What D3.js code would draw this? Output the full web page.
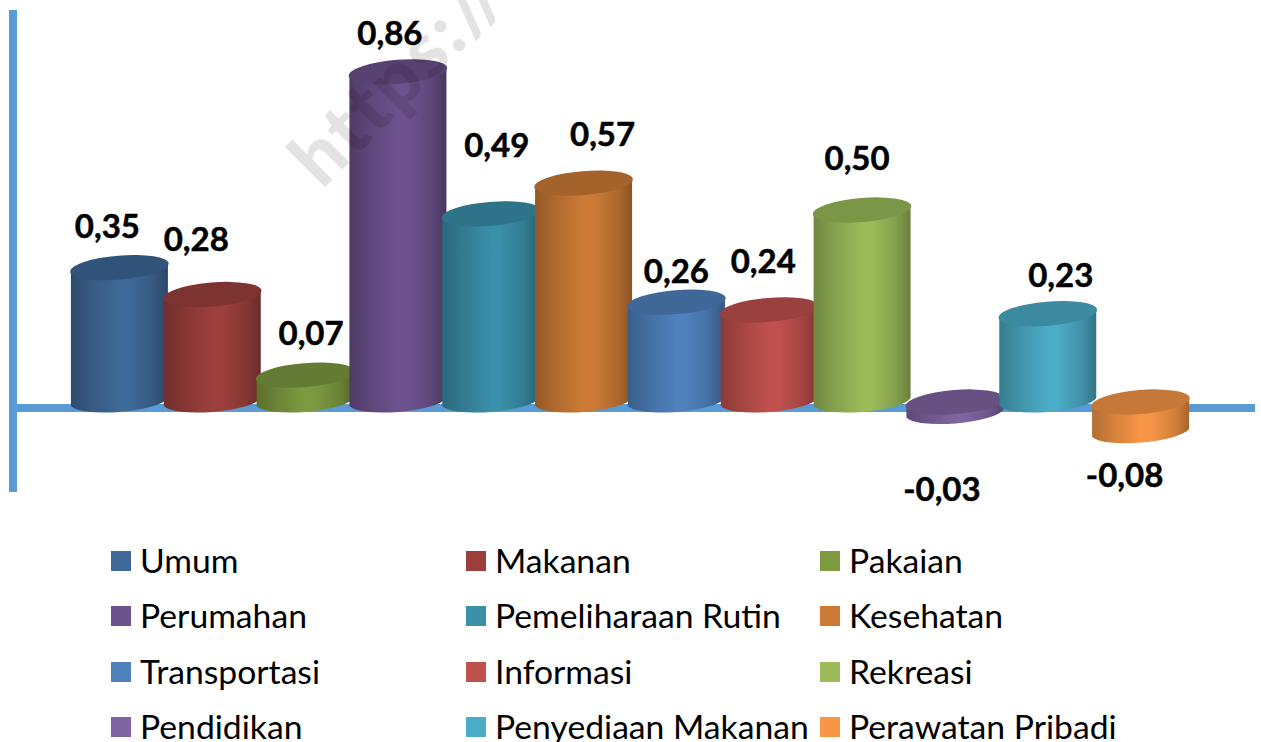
<!DOCTYPE html>
<html>
<head>
<meta charset="utf-8">
<script src="https://cdn.jsdelivr.net/npm/d3@7"></script>
<style>
  html, body { margin: 0; padding: 0; background: #fff; }
  svg { display: block; }
</style>
</head>
<body>
<div id="graph-container"></div>
<script>
const categories = ['Umum','Makanan','Pakaian','Perumahan','Pemeliharaan Rutin','Kesehatan','Transportasi','Informasi','Rekreasi','Pendidikan','Penyediaan Makanan','Perawatan Pribadi'];
const values = [0.35,0.28,0.07,0.86,0.49,0.57,0.26,0.24,0.50,-0.03,0.23,-0.08];
const colors = ['#3f6998','#9c3f3c','#7d9a40','#6d528e','#3a8fa9','#cc7b36','#4f81bd','#c0504d','#9bbb59','#8064a2','#4bacc6','#f79646'];

// hand placed label nudges, the original labels were dragged around
const labelDx = [-12,-16,6,-8,6,19,0,-6,-5,-13,13,-16];
const labelDy = [-41,-55,-42,-38,-68,-49,-31,-48,-52,87,-38,73];

const width = 1261;
const height = 742;
const axisColor = '#5b9bd5';
const RX = 49.4;
const RY = 12;
const TILT = -4.7;

const svg = d3.select('#graph-container').append('svg')
  .attr('width', width)
  .attr('height', height);

const x = d3.scaleBand().domain(categories).range([73, 1187]).padding(0);
const y = d3.scaleLinear().domain([0, 1]).range([402, 18]);
const barW = 97;

const defs = svg.append('defs');
colors.forEach((c, i) => {
  const g = defs.append('linearGradient').attr('id', `cyl-${i}`).attr('x1', 0).attr('x2', 1).attr('y1', 0).attr('y2', 0);
  g.append('stop').attr('offset', '0%').attr('stop-color', d3.rgb(c).darker(0.9));
  g.append('stop').attr('offset', '22%').attr('stop-color', d3.rgb(c).darker(0.42));
  g.append('stop').attr('offset', '50%').attr('stop-color', c);
  g.append('stop').attr('offset', '60%').attr('stop-color', c);
  g.append('stop').attr('offset', '85%').attr('stop-color', d3.rgb(c).darker(0.45));
  g.append('stop').attr('offset', '100%').attr('stop-color', d3.rgb(c).darker(1.1));
});

// axes
const axisG = svg.append('g').attr('id', 'axes');
axisG.append('line')
  .attr('x1', 13).attr('x2', 13)
  .attr('y1', y(0) - 392).attr('y2', y(0) + 90)
  .attr('stroke', axisColor).attr('stroke-width', 8);
axisG.append('line')
  .attr('x1', 9).attr('x2', 1255)
  .attr('y1', y(0) + 6).attr('y2', y(0) + 6)
  .attr('stroke', axisColor).attr('stroke-width', 8);

// cylinders, left to right so later ones sit on top of earlier ones
const dyTilt = (barW / 2) * Math.tan(-TILT * Math.PI / 180);
const bars = svg.append('g').attr('id', 'bars').selectAll('g.cyl')
  .data(categories)
  .join('g')
  .attr('class', 'cyl');

bars.append('path')
  .attr('fill', (d, i) => `url(#cyl-${i})`)
  .attr('d', (d, i) => {
    const cx = x(d) + x.bandwidth() / 2;
    const top = y(Math.max(values[i], 0));
    const bot = y(Math.min(values[i], 0));
    const l = cx - barW / 2;
    const r = cx + barW / 2;
    return `M${l} ${top + dyTilt} L${l} ${bot + dyTilt} A${RX} ${RY} ${TILT} 0 0 ${r} ${bot - dyTilt} L${r} ${top - dyTilt} Z`;
  });

bars.append('ellipse')
  .attr('cx', 0).attr('cy', 0)
  .attr('rx', RX).attr('ry', RY)
  .attr('transform', (d, i) => `translate(${x(d) + x.bandwidth() / 2},${y(Math.max(values[i], 0))}) rotate(${TILT})`)
  .attr('fill', (d, i) => d3.rgb(colors[i]).darker(0.62));

// watermark, cut off by the top of the picture
svg.append('text')
  .attr('transform', 'translate(322,190) rotate(-45)')
  .attr('font-family', 'Lato, sans-serif')
  .attr('font-weight', 900)
  .attr('font-size', 76)
  .attr('letter-spacing', 2.5)
  .attr('fill', '#000')
  .attr('fill-opacity', 0.11)
  .text('https://m');

// value labels
svg.append('g').attr('id', 'labels').selectAll('text')
  .data(categories)
  .join('text')
  .attr('x', (d, i) => x(d) + x.bandwidth() / 2 + labelDx[i])
  .attr('y', (d, i) => y(Math.max(values[i], 0)) + labelDy[i])
  .attr('dy', '0.35em')
  .attr('text-anchor', 'middle')
  .attr('font-family', 'Lato, sans-serif')
  .attr('font-weight', 700)
  .attr('font-size', 33)
  .attr('fill', '#000')
  .attr('stroke', '#000')
  .attr('stroke-width', 0.5)
  .text((d, i) => d3.format('.2f')(values[i]).replace('.', ',').replace('\u2212', '-'));

// legend
const legendX = d3.scaleOrdinal().domain([0, 1, 2]).range([111, 466, 820]);
const legendY = d3.scaleOrdinal().domain([0, 1, 2, 3]).range([561, 616, 672, 727]);
const legend = svg.append('g').attr('id', 'legend').selectAll('g')
  .data(categories)
  .join('g')
  .attr('transform', (d, i) => `translate(${legendX(i % 3)},${legendY(Math.floor(i / 3))})`);
legend.append('rect')
  .attr('x', 0).attr('y', -10)
  .attr('width', 20).attr('height', 20)
  .attr('fill', (d, i) => colors[i]);
legend.append('text')
  .attr('x', 29)
  .attr('dy', '0.35em')
  .attr('font-family', 'Lato, sans-serif')
  .attr('font-size', 33.7)
  .attr('fill', '#000')
  .text(d => d);
</script>
</body>
</html>
